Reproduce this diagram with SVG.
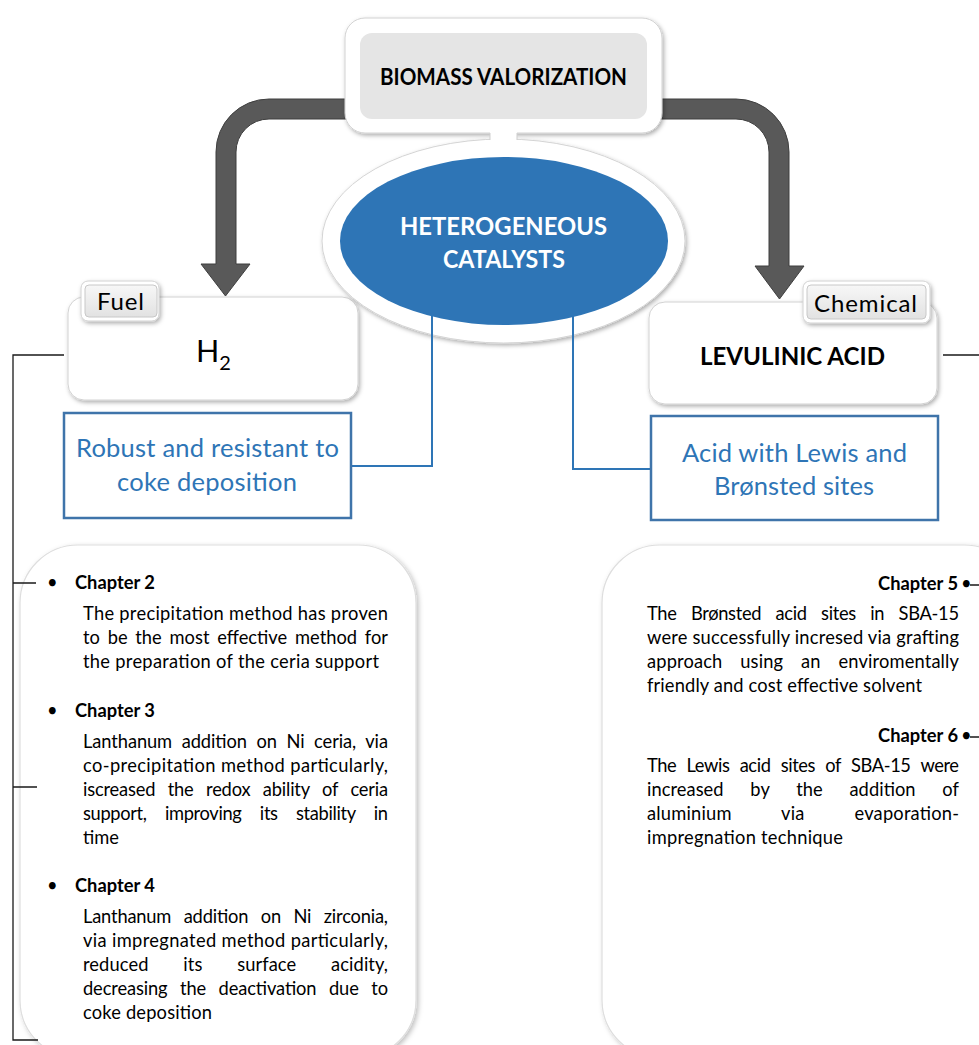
<svg xmlns="http://www.w3.org/2000/svg" width="979" height="1045" viewBox="0 0 979 1045">
  <defs>
    <filter id="shadow" x="-10%" y="-10%" width="125%" height="130%">
      <feDropShadow dx="1.5" dy="2" stdDeviation="2" flood-color="#000" flood-opacity="0.32"/>
    </filter>
    <filter id="softShadow" x="-5%" y="-5%" width="115%" height="115%">
      <feDropShadow dx="2" dy="2" stdDeviation="2.5" flood-color="#000" flood-opacity="0.25"/>
    </filter>
    <linearGradient id="tabFill" x1="0" y1="0" x2="0" y2="1">
      <stop offset="0" stop-color="#f7f7f7"/>
      <stop offset="1" stop-color="#e2e2e2"/>
    </linearGradient>
  </defs>
  <style>
    .txt { font-family: Lato, "Open Sans", "Liberation Sans", sans-serif; fill: #000; }
    .para { font-size: 18.3px; }
    .head { font-size: 18.3px; font-weight: bold; }
    .blue { fill: #2e75b6; font-size: 25.5px; }
    .tab { font-size: 24px; }
    .card { fill: #fff; stroke: #d2d2d2; stroke-width: 1; filter: url(#shadow); }
    .panel { fill: #fff; stroke: #dedede; stroke-width: 1.2; filter: url(#softShadow); }
    .note { fill: #fff; stroke: #3f74aa; stroke-width: 2.5; }
    .link { fill: none; stroke: #2e75b6; stroke-width: 2; }
    .bracket { fill: none; stroke: #1a1a1a; stroke-width: 1.3; }
    .arrow { fill: #595959; stroke: #3f3f3f; stroke-width: 1; }
  </style>

  <rect width="979" height="1045" fill="#fff"/>

  <!-- chapter panels -->
  <g id="panel-left">
    <rect class="panel" x="20" y="545" width="396" height="513" rx="58"/>
  </g>
  <g id="panel-right">
    <rect class="panel" x="602" y="545" width="420" height="513" rx="58"/>
  </g>

  <!-- connectors -->
  <g id="connectors">
    <path class="bracket" d="M64,355 H13 V1040 H38 M13,583 H36 M13,787 H37"/>
    <path class="bracket" d="M943,355 H979 M970,585 H979 M970,737 H979"/>
    <path class="arrow" d="M350,99 H269 A53,53 0 0 0 216,152 V264 H201 L225.5,296 L250,264 H236 V152 A33,33 0 0 1 269,119 H350 Z"/>
    <path class="arrow" d="M655,99 H736 A53,53 0 0 1 789,152 V266 H804 L779.5,299 L755,266 H769 V152 A33,33 0 0 0 736,119 H655 Z"/>
  </g>

  <!-- top node -->
  <g id="biomass">
    <rect class="card" x="345" y="18" width="317" height="115" rx="20"/>
    <rect x="360" y="33" width="287" height="86" rx="12" fill="#e5e5e5"/>
    <text class="txt" x="503.5" y="85" font-size="23.3" font-weight="bold" text-anchor="middle" textLength="247" lengthAdjust="spacingAndGlyphs">BIOMASS VALORIZATION</text>
  </g>

  <!-- product nodes -->
  <g id="h2">
    <rect class="card" x="68" y="297" width="290" height="103" rx="16"/>
    <rect class="card" x="81" y="281" width="78" height="40" rx="7"/>
    <rect x="85" y="285" width="72" height="32" rx="4" fill="url(#tabFill)" stroke="#c8c8c8" stroke-width="1"/>
    <text class="txt tab" x="120.5" y="310" text-anchor="middle" textLength="47" lengthAdjust="spacing">Fuel</text>
    <text class="txt" x="196" y="362" font-size="30.5">H<tspan font-size="20" dy="8">2</tspan></text>
  </g>
  <g id="levulinic">
    <rect class="card" x="649" y="302" width="288" height="102" rx="16"/>
    <rect class="card" x="803" y="281" width="127" height="42" rx="7"/>
    <rect x="807" y="285" width="119" height="34" rx="4" fill="url(#tabFill)" stroke="#c8c8c8" stroke-width="1"/>
    <text class="txt tab" x="865.5" y="312" text-anchor="middle" textLength="103" lengthAdjust="spacing">Chemical</text>
    <text class="txt" x="792.5" y="365" font-size="25" font-weight="bold" text-anchor="middle" textLength="185" lengthAdjust="spacingAndGlyphs">LEVULINIC ACID</text>
  </g>

  <!-- central node -->
  <g id="catalysts">
    <ellipse cx="503.5" cy="241" rx="181.5" ry="102" fill="#fff" stroke="#d4d4d4" stroke-width="1" filter="url(#shadow)"/>
    <rect x="490" y="126" width="27" height="18" fill="#fff"/>
    <path d="M490,133 V140 M517,133 V140" stroke="#cfcfcf" stroke-width="1"/>
    <ellipse cx="504" cy="241" rx="164" ry="84" fill="#2e75b6"/>
    <text class="txt" x="503.5" y="235" font-size="25" font-weight="bold" style="fill:#fff" text-anchor="middle" textLength="207" lengthAdjust="spacingAndGlyphs">HETEROGENEOUS</text>
    <text class="txt" x="504" y="268" font-size="25" font-weight="bold" style="fill:#fff" text-anchor="middle" textLength="122" lengthAdjust="spacingAndGlyphs">CATALYSTS</text>
  </g>

  <!-- property links -->
  <g id="property-links">
    <path class="link" d="M351,466 H432 V316"/>
    <path class="link" d="M573,316 V469 H651"/>
  </g>

  <g id="robust">
    <rect class="note" x="64" y="413" width="287" height="105"/>
    <text class="txt blue" x="207.5" y="457" text-anchor="middle" textLength="263" lengthAdjust="spacing">Robust and resistant to</text>
    <text class="txt blue" x="207" y="491" text-anchor="middle" textLength="180" lengthAdjust="spacing">coke deposition</text>
  </g>
  <g id="acid">
    <rect class="note" x="651" y="416" width="287" height="104"/>
    <text class="txt blue" x="794.5" y="462" text-anchor="middle" textLength="225" lengthAdjust="spacing">Acid with Lewis and</text>
    <text class="txt blue" x="794" y="495" text-anchor="middle" textLength="160" lengthAdjust="spacing">Brønsted sites</text>
  </g>

  <!-- chapter notes, left -->
  <g id="chapters-left" class="txt">
    <text class="para" x="47" y="589">•</text>
    <text class="head" x="75" y="589">Chapter 2</text>
    <text class="para" x="83" y="620" textLength="305" lengthAdjust="spacing">The precipitation method has proven</text>
    <text class="para" x="83" y="644" textLength="305" lengthAdjust="spacing" word-spacing="3">to be the most effective method for</text>
    <text class="para" x="83" y="668" textLength="296" lengthAdjust="spacing">the preparation of the ceria support</text>

    <text class="para" x="47" y="717">•</text>
    <text class="head" x="75" y="717">Chapter 3</text>
    <text class="para" x="83" y="748" textLength="305" lengthAdjust="spacing" word-spacing="5">Lanthanum addition on Ni ceria, via</text>
    <text class="para" x="83" y="772" textLength="305" lengthAdjust="spacing">co-precipitation method particularly,</text>
    <text class="para" x="83" y="796" textLength="305" lengthAdjust="spacing" word-spacing="8">iscreased the redox ability of ceria</text>
    <text class="para" x="83" y="820" textLength="305" lengthAdjust="spacing" word-spacing="14">support, improving its stability in</text>
    <text class="para" x="83" y="844">time</text>

    <text class="para" x="47" y="892">•</text>
    <text class="head" x="75" y="892">Chapter 4</text>
    <text class="para" x="83" y="923" textLength="305" lengthAdjust="spacing" word-spacing="8">Lanthanum addition on Ni zirconia,</text>
    <text class="para" x="83" y="947" textLength="305" lengthAdjust="spacing">via impregnated method particularly,</text>
    <text class="para" x="83" y="971" textLength="305" lengthAdjust="spacing" word-spacing="30">reduced its surface acidity,</text>
    <text class="para" x="83" y="995" textLength="305" lengthAdjust="spacing" word-spacing="8">decreasing the deactivation due to</text>
    <text class="para" x="83" y="1019" textLength="129" lengthAdjust="spacing">coke deposition</text>
  </g>

  <!-- chapter notes, right -->
  <g id="chapters-right" class="txt">
    <text class="head" x="958" y="590" text-anchor="end">Chapter 5</text>
    <text class="para" x="961" y="590">•</text>
    <text class="para" x="647" y="620" textLength="312" lengthAdjust="spacing" word-spacing="10">The Brønsted acid sites in SBA-15</text>
    <text class="para" x="647" y="644" textLength="312" lengthAdjust="spacing">were successfully incresed via grafting</text>
    <text class="para" x="647" y="668" textLength="312" lengthAdjust="spacing" word-spacing="13">approach using an enviromentally</text>
    <text class="para" x="647" y="692" textLength="275" lengthAdjust="spacing">friendly and cost effective solvent</text>

    <text class="head" x="958" y="742" text-anchor="end">Chapter 6</text>
    <text class="para" x="961" y="742">•</text>
    <text class="para" x="647" y="772" textLength="312" lengthAdjust="spacing" word-spacing="6">The Lewis acid sites of SBA-15 were</text>
    <text class="para" x="647" y="796" textLength="312" lengthAdjust="spacing" word-spacing="22">increased by the addition of</text>
    <text class="para" x="647" y="820" textLength="312" lengthAdjust="spacing" word-spacing="45">aluminium via evaporation-</text>
    <text class="para" x="647" y="844" textLength="196" lengthAdjust="spacing">impregnation technique</text>
  </g>
</svg>
